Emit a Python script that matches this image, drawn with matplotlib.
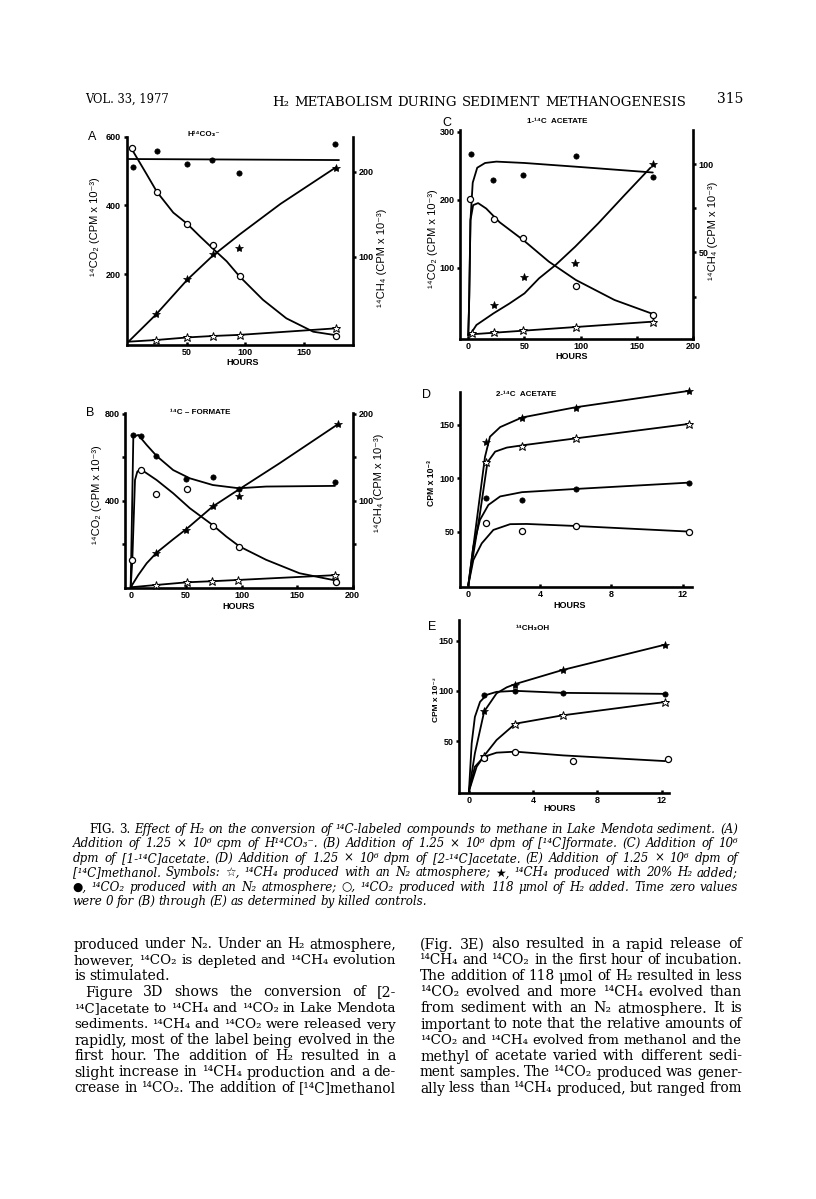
import matplotlib
matplotlib.use('Agg')
import matplotlib.pyplot as plt

W, H = 816, 1199
fig = plt.figure(figsize=(W / 100, H / 100), dpi=100)
fig.patch.set_facecolor('white')

SANS = ['Liberation Sans', 'DejaVu Sans']
SERIF = ['DejaVu Serif', 'DejaVu Sans']

# ---------------- DATA ----------------
# Panel A  (H14CO3-)
a_h_fc = [3.6, 24, 49.7, 71.4, 94.7, 177]
a_co2_n2 = [513, 559, 520, 533, 494, 578]
a_h_oc = [3, 24, 50, 72, 95, 177.6]
a_co2_h2 = [566, 439, 347, 286, 193, 20]
a_h_fs = [23.6, 50.3, 72, 94.7, 177.4]
a_ch4_h2 = [33, 74, 103, 110, 204]
a_h_os = [23.9, 50.4, 72, 95, 177.4]
a_ch4_n2 = [2, 5, 6.7, 8, 15.7]
a_fit_co2_n2_h = [0, 180]
a_fit_co2_n2_v = [535, 532]
a_fit_co2_h2_h = [3.5, 15.5, 24.4, 38.3, 50, 61, 72.2, 84, 95, 115, 135, 158, 177]
a_fit_co2_h2_v = [560, 491, 439, 379, 347, 310, 274, 237, 193, 125, 71, 32, 22]
a_fit_ch4_h2_h = [0, 23.6, 50.4, 72, 95, 130, 177.4]
a_fit_ch4_h2_v = [0, 32, 73, 101, 126, 162, 205]
a_fit_ch4_n2_h = [0, 23.9, 50.4, 72, 95, 177.4]
a_fit_ch4_n2_v = [0, 2, 5, 6.7, 8, 15.7]

# Panel B  (14C-formate)
b_h_fc = [2.4, 9, 23, 50, 74, 97.6, 184]
b_co2_n2 = [703, 698, 608, 501, 511, 454, 488]
b_h_oc = [1.5, 9, 22.5, 51, 74, 98, 185]
b_co2_h2 = [126, 540, 431, 452, 283, 185, 25]
b_h_fs = [23, 50, 74, 97.6, 186.5]
b_ch4_h2 = [40, 66, 94, 105, 188]
b_h_os = [23, 51, 73, 97, 184]
b_ch4_n2 = [2.7, 5.8, 7, 8.5, 14]
b_fit_co2_n2_h = [0, 1.2, 2.4, 6.9, 14.4, 23.4, 38.3, 53.3, 74, 97.6, 122, 184]
b_fit_co2_n2_v = [0, 340, 695, 703, 657, 606, 541, 503, 472, 457, 465, 468]
b_fit_co2_h2_h = [0, 1.5, 3.9, 6, 9, 23.4, 38.3, 53.3, 73.7, 86.2, 98.2, 122, 152, 185]
b_fit_co2_h2_v = [0, 126, 495, 534, 545, 495, 434, 365, 288, 234, 188, 127, 65, 31]
b_fit_ch4_h2_h = [0, 6.9, 14.4, 23.4, 38.3, 50.3, 73.7, 97.6, 134, 186.5]
b_fit_ch4_h2_v = [0, 14.2, 27.7, 40, 55.4, 67.3, 93, 113, 143, 188]
b_fit_ch4_n2_h = [0, 23, 51, 73, 97, 184]
b_fit_ch4_n2_v = [0, 2.7, 5.8, 7, 8.5, 14]

# Panel C  (1-14C acetate)
c_h_fc = [2.3, 22, 49, 95.6, 164]
c_co2_n2 = [267, 229, 237, 264, 234]
c_h_oc = [2, 22.5, 49, 95.6, 164]
c_co2_h2 = [201, 171.6, 143, 73.5, 30]
c_h_fs = [22.5, 50, 95, 164]
c_ch4_h2 = [20, 36, 44, 100]
c_h_os = [3, 23, 49, 95.6, 164]
c_ch4_n2 = [4.2, 5.1, 6, 7.9, 10.8]
c_fit_co2_n2_h = [0, 1, 2, 4, 8, 15, 25, 50, 100, 164]
c_fit_co2_n2_v = [0, 60, 170, 225, 247, 254, 256, 254, 248, 240]
c_fit_co2_h2_h = [0, 0.6, 2, 4.4, 8.8, 16, 27.8, 49.4, 71.6, 95.6, 130, 164]
c_fit_co2_h2_v = [0, 33, 170, 192, 195, 187, 167, 140, 109, 82, 52.5, 32]
c_fit_ch4_h2_h = [1.5, 7.3, 22.5, 36.5, 50, 62.9, 77.5, 95, 115.5, 139, 162]
c_fit_ch4_h2_v = [3.2, 8.9, 15.5, 21, 26.8, 35.3, 42.8, 53.2, 66.4, 82.5, 98]
c_fit_ch4_n2_h = [0, 164]
c_fit_ch4_n2_v = [3.5, 10.8]

# Panel D  (2-14C acetate)
d_h = [1, 3, 6, 12.35]
d_ch4_h2 = [134, 157, 166, 182]
d_ch4_n2 = [115, 130, 137.5, 151]
d_co2_n2 = [81.6, 80, 90, 96]
d_co2_h2 = [58.4, 51, 55, 50]
d_fit_ch4_h2_h = [0, 0.52, 0.93, 1.21, 1.78, 3, 6, 12.35]
d_fit_ch4_h2_v = [0, 67, 120, 139, 148, 157, 166.6, 182]
d_fit_ch4_n2_h = [0, 0.65, 1.07, 1.5, 2.15, 3.05, 6.04, 12.35]
d_fit_ch4_n2_v = [0, 67, 115, 125, 128.8, 131, 137.5, 151]
d_fit_co2_n2_h = [0, 0.28, 0.65, 1.12, 1.78, 3, 6, 12.4]
d_fit_co2_n2_v = [0, 36, 61, 75, 83, 87, 90, 96]
d_fit_co2_h2_h = [0, 0.28, 0.75, 1.4, 2.34, 3.27, 6, 12.4]
d_fit_co2_h2_v = [0, 23.4, 39, 51.6, 57, 57.2, 55.3, 50]

# Panel E  (14CH3OH)
e_h = [0.95, 2.89, 5.83, 12.2]
e_co2_n2 = [95.5, 99.5, 98.2, 97.2]
e_ch4_h2 = [79.5, 105.5, 120.8, 146]
e_ch4_n2 = [35.4, 67.3, 75.6, 88.9]
e_h_oc = [0.95, 2.89, 6.5, 12.4]
e_co2_h2 = [33, 39.4, 30, 32.4]
e_fit_ch4_h2_h = [0, 0.37, 0.95, 1.72, 2.35, 2.89, 5.83, 12.2]
e_fit_ch4_h2_v = [0, 37.7, 79.5, 97.5, 103.5, 106.8, 120.8, 146]
e_fit_co2_n2_h = [0, 0.17, 0.37, 0.69, 1.1, 1.72, 2.89, 5.83, 12.2]
e_fit_co2_n2_v = [0, 47.7, 74, 89, 96, 99, 100, 98, 97]
e_fit_ch4_n2_h = [0, 0.48, 0.95, 1.72, 2.89, 5.83, 12.2]
e_fit_ch4_n2_v = [0, 24.4, 35.4, 51, 67.3, 75.6, 88.9]
e_fit_co2_h2_h = [0, 0.37, 0.95, 1.72, 2.89, 5.83, 12.2]
e_fit_co2_h2_v = [0, 24.4, 34.4, 38.4, 39.4, 35.7, 30]

# Tick labels
a_xticks = [50, 100, 150]
a_yticks = [200, 400, 600]
a_rticks = [100, 200]
b_xticks = [0, 50, 100, 150, 200]
b_yticks = [400, 800]
b_yminor = [200, 600]
b_rticks = [100, 200]
b_rminor = [50, 150]
c_xticks = [0, 50, 100, 150, 200]
c_yticks = [100, 200, 300]
c_rticks = [50, 100]
c_rminor = [25, 75]
de_xticks = [0, 4, 8, 12]
de_yticks = [50, 100, 150]

# Text
header_left = 'VOL. 33, 1977'
header_mid = 'H₂ METABOLISM DURING SEDIMENT METHANOGENESIS'
header_right = '315'
caption_lines = [
    'FIG. 3. Effect of H₂ on the conversion of ¹⁴C-labeled compounds to methane in Lake Mendota sediment. (A)',
    'Addition of 1.25 × 10⁶ cpm of H¹⁴CO₃⁻. (B) Addition of 1.25 × 10⁶ dpm of [¹⁴C]formate. (C) Addition of 10⁶',
    'dpm of [1-¹⁴C]acetate. (D) Addition of 1.25 × 10⁶ dpm of [2-¹⁴C]acetate. (E) Addition of 1.25 × 10⁶ dpm of',
    '[¹⁴C]methanol. Symbols: ☆, ¹⁴CH₄ produced with an N₂ atmosphere; ★, ¹⁴CH₄ produced with 20% H₂ added;',
    '●, ¹⁴CO₂ produced with an N₂ atmosphere; ○, ¹⁴CO₂ produced with 118 μmol of H₂ added. Time zero values',
    'were 0 for (B) through (E) as determined by killed controls.',
]
left_col = [
    'produced under N₂. Under an H₂ atmosphere,',
    'however, ¹⁴CO₂ is depleted and ¹⁴CH₄ evolution',
    'is stimulated.',
    'Figure 3D shows the conversion of [2-',
    '¹⁴C]acetate to ¹⁴CH₄ and ¹⁴CO₂ in Lake Mendota',
    'sediments. ¹⁴CH₄ and ¹⁴CO₂ were released very',
    'rapidly, most of the label being evolved in the',
    'first hour. The addition of H₂ resulted in a',
    'slight increase in ¹⁴CH₄ production and a de-',
    'crease in ¹⁴CO₂. The addition of [¹⁴C]methanol',
]
right_col = [
    '(Fig. 3E) also resulted in a rapid release of',
    '¹⁴CH₄ and ¹⁴CO₂ in the first hour of incubation.',
    'The addition of 118 μmol of H₂ resulted in less',
    '¹⁴CO₂ evolved and more ¹⁴CH₄ evolved than',
    'from sediment with an N₂ atmosphere. It is',
    'important to note that the relative amounts of',
    '¹⁴CO₂ and ¹⁴CH₄ evolved from methanol and the',
    'methyl of acetate varied with different sedi-',
    'ment samples. The ¹⁴CO₂ produced was gener-',
    'ally less than ¹⁴CH₄ produced, but ranged from',
]

# ---------------- HELPERS ----------------
SPW = 1.9
LW = 1.3
TFS = 6.5
TITLE_FS = 5.8


def fx(x):
    return x / W


def fy(y):
    return 1 - y / H


def px_axes(l, t, r, b):
    return fig.add_axes([l / W, 1 - b / H, (r - l) / W, (b - t) / H])


def setup(ax, xlim, ylim, xticks, yticks, yminor=None):
    ax.set_xlim(xlim)
    ax.set_ylim(ylim)
    ax.patch.set_alpha(0)
    ax.spines['top'].set_visible(False)
    ax.spines['right'].set_visible(False)
    for s in ('left', 'bottom'):
        ax.spines[s].set_linewidth(SPW)
    ax.set_xticks(xticks, labels=[str(t) for t in xticks], fontsize=TFS,
                  fontweight='bold', family=SANS)
    ax.set_yticks(yticks, labels=[str(t) for t in yticks], fontsize=TFS,
                  fontweight='bold', family=SANS)
    if yminor:
        ax.set_yticks(yminor, minor=True)
    ax.tick_params(axis='x', direction='in', length=2.5, width=1.8, pad=2)
    ax.tick_params(axis='y', which='both', direction='out', length=2.5,
                   width=1.8, pad=1.5)


def setup_right(ax, ylim, yticks, yminor=None):
    axr = ax.twinx()
    axr.set_ylim(ylim)
    axr.patch.set_alpha(0)
    for s in ('left', 'top', 'bottom'):
        axr.spines[s].set_visible(False)
    axr.spines['right'].set_linewidth(SPW)
    axr.set_yticks(yticks, labels=[str(t) for t in yticks], fontsize=TFS,
                   fontweight='bold', family=SANS)
    if yminor:
        axr.set_yticks(yminor, minor=True)
    axr.tick_params(axis='y', which='both', direction='out', length=2.5,
                    width=1.8, pad=1.5)
    return axr


def curve(ax, h, v):
    ax.plot(h, v, color='black', lw=LW, solid_joinstyle='round',
            solid_capstyle='round', clip_on=False, zorder=2)


def pts(ax, h, v, kind):
    if kind == 'fc':
        kw = dict(marker='o', ms=3.8, mfc='black', mec='black', mew=0.5)
    elif kind == 'oc':
        kw = dict(marker='o', ms=4.4, mfc='white', mec='black', mew=0.9)
    elif kind == 'fs':
        kw = dict(marker='*', ms=6.0, mfc='black', mec='black', mew=0.5)
    else:
        kw = dict(marker='*', ms=6.4, mfc='white', mec='black', mew=0.7)
    ax.plot(h, v, ls='none', clip_on=False, zorder=3, **kw)


def ftext(x, y, s, size, rot=0, weight='bold', ha='center', va='center'):
    fig.text(fx(x), fy(y), s, fontsize=size, rotation=rot, fontweight=weight,
             family=SANS, ha=ha, va=va)


# ---------------- PANEL A ----------------
axA = px_axes(126.7, 136.7, 353, 345)
setup(axA, (-1.5, 192), (-6.7, 600), a_xticks, a_yticks)
axAr = setup_right(axA, (-3.9, 241), a_rticks)
curve(axA, a_fit_co2_n2_h, a_fit_co2_n2_v)
curve(axA, a_fit_co2_h2_h, a_fit_co2_h2_v)
pts(axA, a_h_fc, a_co2_n2, 'fc')
pts(axA, a_h_oc, a_co2_h2, 'oc')
curve(axAr, a_fit_ch4_h2_h, a_fit_ch4_h2_v)
curve(axAr, a_fit_ch4_n2_h, a_fit_ch4_n2_v)
pts(axAr, a_h_fs, a_ch4_h2, 'fs')
pts(axAr, a_h_os, a_ch4_n2, 'os')
ftext(92, 137, 'A', 9, weight='normal')
ftext(204, 134, 'H¹⁴CO₃⁻', TITLE_FS)
ftext(95, 227, '¹⁴CO₂ (CPM x 10⁻³)', 8, rot=90, weight='normal')
ftext(381.7, 258, '¹⁴CH₄ (CPM x 10⁻³)', 8, rot=90, weight='normal')
ftext(243, 362.7, 'HOURS', TFS)

# ---------------- PANEL B ----------------
axB = px_axes(125, 413.3, 352.7, 588.3)
setup(axB, (-5.1, 199.4), (-4.6, 803), b_xticks, b_yticks, b_yminor)
axBr = setup_right(axB, (-1.15, 200.75), b_rticks, b_rminor)
curve(axB, b_fit_co2_n2_h, b_fit_co2_n2_v)
curve(axB, b_fit_co2_h2_h, b_fit_co2_h2_v)
pts(axB, b_h_fc, b_co2_n2, 'fc')
pts(axB, b_h_oc, b_co2_h2, 'oc')
curve(axBr, b_fit_ch4_h2_h, b_fit_ch4_h2_v)
curve(axBr, b_fit_ch4_n2_h, b_fit_ch4_n2_v)
pts(axBr, b_h_fs, b_ch4_h2, 'fs')
pts(axBr, b_h_os, b_ch4_n2, 'os')
ftext(90, 413.3, 'B', 9, weight='normal')
ftext(200, 412.7, '¹⁴C – FORMATE', TITLE_FS)
ftext(96.7, 495, '¹⁴CO₂ (CPM x 10⁻³)', 8, rot=90, weight='normal')
ftext(379.3, 483.3, '¹⁴CH₄ (CPM x 10⁻³)', 8, rot=90, weight='normal')
ftext(238.3, 606.7, 'HOURS', TFS)

# ---------------- PANEL C ----------------
axC = px_axes(460, 130, 693.3, 339.3)
setup(axC, (-7.3, 197.4), (-5.3, 302.5), c_xticks, c_yticks)
axCr = setup_right(axC, (0.8, 119.3), c_rticks, c_rminor)
curve(axC, c_fit_co2_n2_h, c_fit_co2_n2_v)
curve(axC, c_fit_co2_h2_h, c_fit_co2_h2_v)
pts(axC, c_h_fc, c_co2_n2, 'fc')
pts(axC, c_h_oc, c_co2_h2, 'oc')
curve(axCr, c_fit_ch4_h2_h, c_fit_ch4_h2_v)
curve(axCr, c_fit_ch4_n2_h, c_fit_ch4_n2_v)
pts(axCr, c_h_fs, c_ch4_h2, 'fs')
pts(axCr, c_h_os, c_ch4_n2, 'os')
ftext(446.7, 122.7, 'C', 9, weight='normal')
ftext(556.7, 121.7, '1-¹⁴C  ACETATE', TITLE_FS)
ftext(433, 239, '¹⁴CO₂ (CPM x 10⁻³)', 8, rot=90, weight='normal')
ftext(713, 231, '¹⁴CH₄ (CPM x 10⁻³)', 8, rot=90, weight='normal')
ftext(571.7, 356.7, 'HOURS', TFS)

# ---------------- PANEL D ----------------
axD = px_axes(460, 391.7, 691.7, 587.3)
setup(axD, (-0.467, 12.5), (-2.2, 181.2), de_xticks, de_yticks)
curve(axD, d_fit_ch4_h2_h, d_fit_ch4_h2_v)
curve(axD, d_fit_ch4_n2_h, d_fit_ch4_n2_v)
curve(axD, d_fit_co2_n2_h, d_fit_co2_n2_v)
curve(axD, d_fit_co2_h2_h, d_fit_co2_h2_v)
pts(axD, d_h, d_ch4_h2, 'fs')
pts(axD, d_h, d_ch4_n2, 'os')
pts(axD, d_h, d_co2_n2, 'fc')
pts(axD, d_h, d_co2_h2, 'oc')
ftext(426.7, 395, 'D', 9, weight='normal')
ftext(525.7, 394, '2-¹⁴C  ACETATE', TITLE_FS)
ftext(432, 483.3, 'CPM x 10⁻³', 6.2, rot=90)
ftext(570, 605, 'HOURS', TFS)

# ---------------- PANEL E ----------------
axE = px_axes(459.3, 620, 669.3, 793.3)
setup(axE, (-0.6, 12.47), (-2.1, 170.6), de_xticks, de_yticks)
curve(axE, e_fit_ch4_h2_h, e_fit_ch4_h2_v)
curve(axE, e_fit_co2_n2_h, e_fit_co2_n2_v)
curve(axE, e_fit_ch4_n2_h, e_fit_ch4_n2_v)
curve(axE, e_fit_co2_h2_h, e_fit_co2_h2_v)
pts(axE, e_h, e_ch4_h2, 'fs')
pts(axE, e_h, e_co2_n2, 'fc')
pts(axE, e_h, e_ch4_n2, 'os')
pts(axE, e_h_oc, e_co2_h2, 'oc')
ftext(432.3, 627.3, 'E', 9, weight='normal')
ftext(532.3, 628.3, '¹⁴CH₃OH', TITLE_FS)
ftext(436, 700, 'CPM x 10⁻³', 6.0, rot=90)
ftext(560, 808.3, 'HOURS', TFS)

# ---------------- PAGE TEXT ----------------
renderer = fig.canvas.get_renderer()


def put_line(text, x0, x1, yb, size, style='normal', justify=True,
             upright=0):
    words = text.split(' ')
    while True:
        objs = []
        for i, w in enumerate(words):
            st = 'normal' if i < upright else style
            objs.append(fig.text(0, fy(yb), w, fontsize=size, fontstyle=st,
                                 family=SERIF, va='baseline', ha='left'))
        widths = [t.get_window_extent(renderer).width for t in objs]
        natural = size * 0.28 * 100 / 72
        total = sum(widths) + natural * (len(words) - 1)
        if total <= (x1 - x0) or size < 5:
            break
        for t in objs:
            t.remove()
        size -= 0.1
    if justify and len(objs) > 1:
        gap = (x1 - x0 - sum(widths)) / (len(objs) - 1)
    else:
        gap = natural
    x = x0
    for t, w in zip(objs, widths):
        t.set_x(fx(x))
        x += w + gap
    return size


fig.text(fx(85), fy(103), header_left, fontsize=8.3, family=SERIF,
         ha='left', va='baseline')
put_line(header_mid, 272, 686, 106, 9.5)
fig.text(fx(743), fy(103), header_right, fontsize=10, family=SERIF,
         ha='right', va='baseline')

cap_y = [829.3, 843.8, 858.3, 872.8, 887.3, 901.8]
cap_size = 9.6
for i, line in enumerate(caption_lines):
    x0 = 89.3 if i == 0 else 72.7
    last = (i == len(caption_lines) - 1)
    s = put_line(line, x0, 738, cap_y[i] + 3.5, cap_size, style='italic',
                 justify=not last, upright=2 if i == 0 else 0)
    if not last:
        cap_size = max(8.0, s)

body_size = 10.2
for i in range(10):
    yb = 944 + 16 * i + 4.5
    xl0 = 85 if i == 3 else 74
    put_line(left_col[i], xl0, 396, yb, body_size, justify=(i != 2))
    put_line(right_col[i], 420, 742, yb, body_size, justify=True)

fig.savefig('out.png', dpi=100)
